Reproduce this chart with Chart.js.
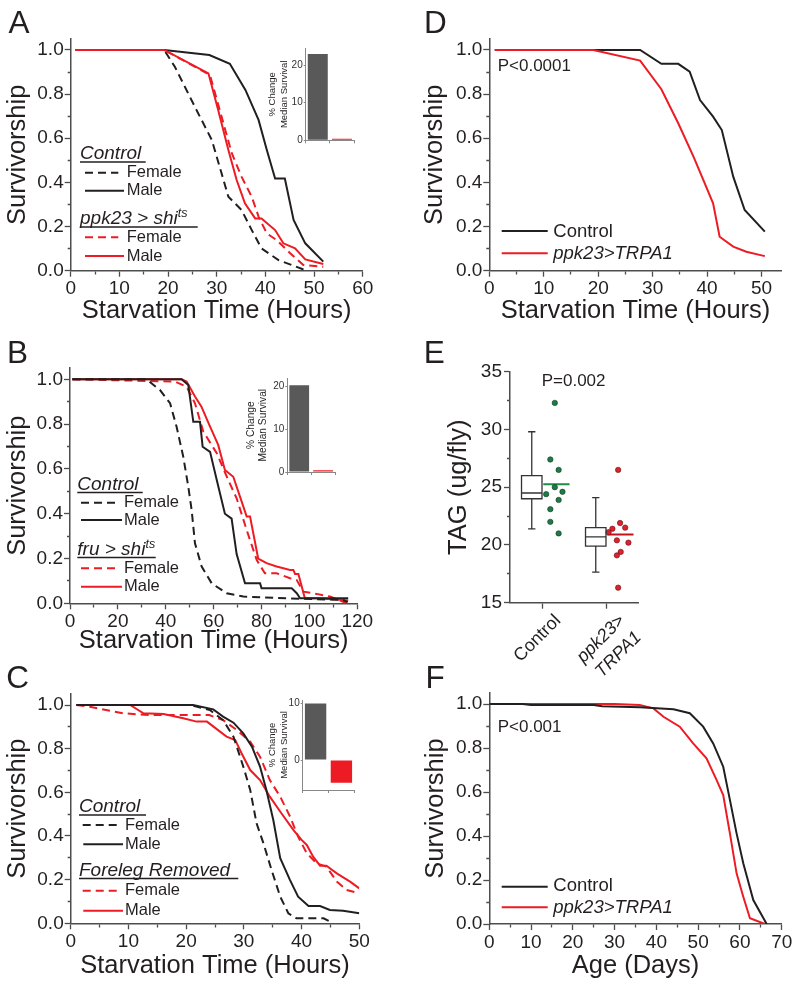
<!DOCTYPE html>
<html>
<head>
<meta charset="utf-8">
<script src="https://cdn.jsdelivr.net/npm/chart.js@4.4.1/dist/chart.umd.min.js"></script>
<style>
html, body { margin: 0; padding: 0; background: #fff; }
#fig { position: relative; width: 800px; height: 988px; overflow: hidden;
  font-family: 'Liberation Sans', Arial, sans-serif; color: #231f20; }
#fig canvas { position: absolute; }
.txt { position: absolute; white-space: nowrap; line-height: 1; }
.sup { position: relative; top: -7px; font-size: 12.5px; font-style: italic; }
#marks { position: absolute; left: 0; top: 0; }
</style>
</head>
<body>
<div id="fig">
  <canvas id="chartA"></canvas>
  <canvas id="chartB"></canvas>
  <canvas id="chartC"></canvas>
  <canvas id="chartD"></canvas>
  <canvas id="chartE"></canvas>
  <canvas id="chartF"></canvas>
  <canvas id="insetA"></canvas>
  <canvas id="insetB"></canvas>
  <canvas id="insetC"></canvas>
  <svg id="marks" width="800" height="988"></svg>
</div>
<script>
'use strict';

// ---- A: ppk23 > shi(ts), starvation (hours / survivorship)
let aCtrlFemaleT = [1, 19.2, 21.4, 25.5, 29, 31, 32.4, 35.1, 37.2, 39.2, 42.7, 48.5];
let aCtrlFemaleS = [1, 1, 0.924, 0.743, 0.592, 0.441, 0.335, 0.275, 0.184, 0.101, 0.048, 0];
let aCtrlMaleT = [1, 19.2, 28.5, 32.7, 35.9, 38.6, 40.3, 42, 44, 45.8, 48.2, 51.9];
let aCtrlMaleS = [1, 1, 0.977, 0.937, 0.819, 0.683, 0.547, 0.418, 0.418, 0.23, 0.124, 0.041];
let aShiFemaleT = [1, 19.2, 28.6, 31, 33.1, 35.1, 37.2, 38.6, 40.3, 42.3, 45.1, 47.8, 51.9];
let aShiFemaleS = [1, 1, 0.887, 0.698, 0.532, 0.426, 0.335, 0.245, 0.169, 0.139, 0.079, 0.026, 0.018];
let aShiMaleT = [1, 19.2, 28.3, 30.3, 32.4, 34.1, 35.8, 37.9, 39.2, 42, 43.7, 46.1, 48.2, 51.9];
let aShiMaleS = [1, 1, 0.894, 0.728, 0.547, 0.411, 0.305, 0.237, 0.237, 0.184, 0.124, 0.101, 0.051, 0.03];

// ---- B: fru > shi(ts)
let bCtrlFemaleT = [1, 32, 37.6, 41.8, 44.5, 47.3, 49.4, 50.8, 52.2, 55, 59.2, 65.4, 72.4, 91.9, 114, 116];
let bCtrlFemaleS = [1, 1, 0.952, 0.893, 0.789, 0.655, 0.521, 0.417, 0.268, 0.164, 0.089, 0.045, 0.03, 0.022, 0.015, 0.005];
let bCtrlMaleT = [1, 46.6, 49.4, 51.5, 54.3, 55.4, 58.5, 61.3, 64.7, 67.5, 69.6, 73.1, 79.4, 80, 92.6, 94.7, 96.1, 116.2];
let bCtrlMaleS = [1, 1, 0.975, 0.81, 0.81, 0.699, 0.676, 0.55, 0.4, 0.378, 0.22, 0.089, 0.089, 0.067, 0.067, 0.045, 0.022, 0.022];
let bFruFemaleT = [1, 43.9, 48.7, 52.2, 55.7, 61.3, 66.1, 69.6, 73.8, 78, 81.4, 86.3, 91.9, 94.7, 97.5, 103, 108.6, 115.6];
let bFruFemaleS = [1, 0.99, 0.967, 0.893, 0.766, 0.67, 0.55, 0.469, 0.327, 0.193, 0.134, 0.134, 0.112, 0.104, 0.052, 0.042, 0.03, 0];
let bFruMaleT = [1, 46.6, 48.7, 52.2, 54.9, 58.5, 61.9, 64.7, 68.2, 71, 73.8, 75.2, 78.6, 82.1, 86.3, 91.9, 93.3, 94, 95.4, 98.1, 103, 114, 116.2];
let bFruMaleS = [1, 1, 0.99, 0.923, 0.878, 0.789, 0.707, 0.595, 0.565, 0.476, 0.387, 0.387, 0.2, 0.179, 0.164, 0.149, 0.149, 0.131, 0.131, 0.022, 0.022, 0.015, 0.012];

// ---- C: foreleg removed
let cCtrlFemaleT = [1, 20.7, 24.1, 26.4, 28.2, 29.9, 31.1, 32.2, 33.4, 34.8, 36.3, 37.7, 39.1, 43.8, 44.9];
let cCtrlFemaleS = [1, 1, 0.977, 0.931, 0.855, 0.718, 0.611, 0.458, 0.366, 0.244, 0.122, 0.046, 0.023, 0.023, 0.008];
let cCtrlMaleT = [1, 21.2, 24.7, 26.4, 28.2, 29.9, 31.4, 32.8, 33.9, 35.1, 36.3, 38, 39.4, 41.2, 43.2, 44.9, 47.2, 50];
let cCtrlMaleS = [1, 1, 0.98, 0.947, 0.919, 0.87, 0.809, 0.718, 0.611, 0.473, 0.298, 0.198, 0.122, 0.079, 0.079, 0.061, 0.058, 0.046];
let cLegFemaleT = [1, 3.3, 9.1, 13.7, 24, 26.4, 28.8, 31.1, 32.8, 34.5, 36.3, 38, 39.4, 40.9, 42.6, 44.3, 46.1, 47.8, 50];
let cLegFemaleS = [1, 0.992, 0.962, 0.954, 0.954, 0.931, 0.885, 0.832, 0.763, 0.656, 0.58, 0.489, 0.397, 0.321, 0.275, 0.26, 0.191, 0.153, 0.137];
let cLegMaleT = [1, 10.3, 12.6, 16.1, 19.5, 21.8, 23.6, 27, 28.5, 29.6, 31.1, 32.8, 34.5, 36.5, 38.6, 40, 40.9, 42, 43.2, 44.3, 46.1, 48.4, 50];
let cLegMaleS = [1, 1, 0.962, 0.959, 0.939, 0.924, 0.924, 0.855, 0.84, 0.779, 0.702, 0.656, 0.58, 0.504, 0.427, 0.382, 0.359, 0.305, 0.264, 0.264, 0.229, 0.191, 0.16];

// ---- D: ppk23 > TRPA1, starvation
let dCtrlT = [1, 27.7, 31.6, 34.7, 36.8, 38.7, 41.1, 42.7, 44.8, 46.9, 50.6];
let dCtrlS = [1, 1, 0.937, 0.937, 0.902, 0.773, 0.698, 0.637, 0.426, 0.275, 0.177];
let dTrpT = [1, 19.1, 27.7, 31.6, 34.7, 37.5, 39.3, 41.1, 42.3, 44.8, 47.2, 50.6];
let dTrpS = [1, 1, 0.952, 0.822, 0.668, 0.517, 0.411, 0.305, 0.154, 0.109, 0.086, 0.066];

// ---- F: lifespan (days)
let fCtrlT = [0, 8, 10, 25, 27, 36.1, 44.1, 48, 51.2, 53.6, 56, 57.6, 59.2, 60.8, 63.2, 66.4];
let fCtrlS = [1, 1, 0.995, 0.995, 0.99, 0.985, 0.976, 0.958, 0.897, 0.821, 0.715, 0.564, 0.412, 0.276, 0.109, 0];
let fTrpT = [0, 30, 36, 39.3, 41.7, 45.6, 48.8, 52, 54.4, 56, 57.6, 59.2, 60.8, 62.4, 66];
let fTrpS = [1, 1, 0.995, 0.98, 0.942, 0.897, 0.821, 0.753, 0.655, 0.586, 0.412, 0.23, 0.124, 0.026, 0];

// ---- insets: % change of median survival (control, experimental)
let insetAVals = [23, 0.4];
let insetBVals = [20.3, 0.4];
let insetCVals = [10, -4];

// ---- E: TAG (ug/fly)
let eCats = ['Control', ['ppk23>', 'TRPA1']];
let boxMin = [21.4, 17.65];
let boxQ1 = [24.0, 19.9];
let boxMed = [24.5, 20.7];
let boxQ3 = [26.0, 21.5];
let boxMax = [29.8, 24.1];
let eCtrlTag = [32.3, 27.4, 26.5, 24.4, 25.0, 24.6, 23.9, 23.1, 22.0, 21.0];
let eCtrlJitter = [0.2, 0.13, 0.26, 0.065, 0.2, 0.32, 0.26, 0.13, 0.13, 0.26];
let eTrpTag = [26.5, 21.9, 21.4, 21.5, 21.1, 20.4, 20.2, 19.4, 19.1, 16.3];
let eTrpJitter = [0.19, 0.22, 0.1, 0.3, 0.04, 0.17, 0.35, 0.23, 0.17, 0.19];
let eMean = [25.25, 20.9];

const RED = '#ed1c24';
const BLK = '#231f20';
const AX = '#4d4d4d';
const GRAY = '#595959';

Chart.defaults.font.family = "'Liberation Sans', Arial, sans-serif";
Chart.defaults.color = BLK;

let fig = document.getElementById('fig');
let marks = document.getElementById('marks');

function place(cv, box) {
    cv.width = box.w;
    cv.height = box.h;
    cv.style.left = box.l + 'px';
    cv.style.top = box.t + 'px';
}

function curve(t, s, color, dash) {
    return {
        data: t.map((x, i) => ({ x: x, y: s[i] })),
        borderColor: color,
        borderWidth: 2,
        borderDash: dash ? [8, 5] : [],
        pointRadius: 0,
        tension: 0,
        fill: false
    };
}

// minor ticks are drawn half length with a dash pattern
function axisGrid(isMinor, side) {
    return {
        drawOnChartArea: false,
        tickLength: 6,
        tickColor: AX,
        tickWidth: 1.3,
        tickBorderDash: c => (c.tick && isMinor(c.tick.value)) ? (side === 'y' ? [0, 3, 3, 20] : [3, 20]) : []
    };
}

function survival(id, box, area, xMax, major, minor, xTitle, yPad, sets) {
    let cv = document.getElementById(id);
    place(cv, box);
    return new Chart(cv, {
        type: 'line',
        data: { datasets: sets },
        options: {
            responsive: false,
            animation: false,
            events: [],
            layout: { padding: { left: 0, bottom: 0, top: area.t - box.t, right: box.l + box.w - area.r } },
            plugins: { legend: { display: false }, tooltip: { enabled: false } },
            scales: {
                x: {
                    type: 'linear', min: 0, max: xMax,
                    afterFit: s => { s.height = box.t + box.h - area.b; },
                    ticks: {
                        stepSize: minor, autoSkip: false, includeBounds: false, maxRotation: 0, padding: 1,
                        font: { size: 19 },
                        callback: v => Math.round(v) % major === 0 ? String(Math.round(v)) : ''
                    },
                    grid: axisGrid(v => Math.round(v) % major !== 0, 'x'),
                    border: { color: AX, width: 1.5 },
                    title: { display: true, text: xTitle, font: { size: 25.5 }, padding: { top: 0, bottom: 2 } }
                },
                y: {
                    min: 0, max: 1.05,
                    afterFit: s => { s.width = area.l - box.l; },
                    ticks: {
                        stepSize: 0.1, autoSkip: false, includeBounds: false, padding: 1,
                        font: { size: 19 },
                        callback: v => Math.round(v * 10) % 2 === 0 ? v.toFixed(1) : ''
                    },
                    grid: axisGrid(v => Math.round(v * 10) % 2 !== 0, 'y'),
                    border: { color: AX, width: 1.5 },
                    title: { display: true, text: 'Survivorship', font: { size: 25.5 }, padding: { top: yPad, bottom: 0 } }
                }
            }
        }
    });
}

function inset(id, box, area, vals, yMin, yMax, yTicks, tPad, tSize, tLine) {
    let cv = document.getElementById(id);
    place(cv, box);
    return new Chart(cv, {
        type: 'bar',
        data: {
            labels: ['Control', 'Experimental'],
            datasets: [{
                data: vals,
                backgroundColor: [GRAY, RED],
                borderWidth: 0,
                barPercentage: 0.9,
                categoryPercentage: 0.92
            }]
        },
        options: {
            responsive: false,
            animation: false,
            events: [],
            layout: { padding: { left: 0, bottom: 0, top: area.t - box.t, right: box.l + box.w - area.r } },
            plugins: { legend: { display: false }, tooltip: { enabled: false } },
            scales: {
                x: {
                    afterFit: s => { s.height = box.t + box.h - area.b; },
                    ticks: { display: false },
                    grid: { drawOnChartArea: false, tickLength: 3, tickColor: '#888' },
                    border: { color: '#888', width: 1 }
                },
                y: {
                    min: yMin, max: yMax,
                    afterFit: s => { s.width = area.l - box.l; },
                    afterBuildTicks: s => { s.ticks = yTicks.map(v => ({ value: v })); },
                    ticks: { font: { size: 10 }, padding: 1, color: '#333' },
                    grid: { drawOnChartArea: false, tickLength: 2, tickColor: '#888' },
                    border: { color: '#888', width: 1 },
                    title: {
                        display: true, text: ['% Change', 'Median Survival'],
                        font: { size: tSize, lineHeight: tLine }, padding: { top: tPad, bottom: 0 }
                    }
                }
            }
        }
    });
}

// box plot for panel E, drawn through the chart scales
const boxShift = -0.16;
const boxHalf = 0.16;
const capHalf = 0.057;
const tagBoxes = {
    id: 'tagBoxes',
    afterDatasetsDraw(chart) {
        let ctx = chart.ctx;
        let x = chart.scales.x;
        let y = chart.scales.y;
        ctx.save();
        ctx.strokeStyle = '#333';
        ctx.lineWidth = 1.3;
        for (let i = 0; i < eCats.length; i++) {
            let c = i + 1 + boxShift;
            let xl = x.getPixelForValue(c - boxHalf);
            let xr = x.getPixelForValue(c + boxHalf);
            let xc = x.getPixelForValue(c);
            let cw = x.getPixelForValue(c + capHalf) - xc;
            let yq1 = y.getPixelForValue(boxQ1[i]);
            let yq3 = y.getPixelForValue(boxQ3[i]);
            let ymed = y.getPixelForValue(boxMed[i]);
            let ymin = y.getPixelForValue(boxMin[i]);
            let ymax = y.getPixelForValue(boxMax[i]);
            ctx.beginPath();
            ctx.rect(xl, yq3, xr - xl, yq1 - yq3);
            ctx.moveTo(xl, ymed); ctx.lineTo(xr, ymed);
            ctx.moveTo(xc, yq3); ctx.lineTo(xc, ymax);
            ctx.moveTo(xc - cw, ymax); ctx.lineTo(xc + cw, ymax);
            ctx.moveTo(xc, yq1); ctx.lineTo(xc, ymin);
            ctx.moveTo(xc - cw, ymin); ctx.lineTo(xc + cw, ymin);
            ctx.stroke();
        }
        ctx.restore();
    }
};

function tagChart() {
    let box = { l: 400, t: 330, w: 400, h: 360 };
    let area = { l: 510, t: 371.7, r: 638, b: 602.7 };
    let cv = document.getElementById('chartE');
    place(cv, box);
    let meanLine = (i, color) => ({
        type: 'line',
        data: [{ x: i + 1.02, y: eMean[i] }, { x: i + 1.43, y: eMean[i] }],
        borderColor: color, borderWidth: 2, pointRadius: 0, showLine: true
    });
    return new Chart(cv, {
        type: 'scatter',
        data: {
            datasets: [
                {
                    data: eCtrlTag.map((v, i) => ({ x: 1 + eCtrlJitter[i], y: v })),
                    pointRadius: 2.7, backgroundColor: '#1f7a45', borderColor: '#0d3d22', borderWidth: 0.6
                },
                {
                    data: eTrpTag.map((v, i) => ({ x: 2 + eTrpJitter[i], y: v })),
                    pointRadius: 2.7, backgroundColor: '#d9232e', borderColor: '#6b0f14', borderWidth: 0.6
                },
                meanLine(0, '#1e8c45'),
                meanLine(1, '#c0141d')
            ]
        },
        options: {
            responsive: false,
            animation: false,
            events: [],
            layout: { padding: { left: 0, bottom: 0, top: area.t - box.t, right: box.l + box.w - area.r } },
            plugins: { legend: { display: false }, tooltip: { enabled: false } },
            scales: {
                x: {
                    type: 'linear', min: 0.5, max: 2.5,
                    afterFit: s => { s.height = box.t + box.h - area.b; },
                    afterBuildTicks: s => { s.ticks = eCats.map((c, i) => ({ value: i + 1 })); },
                    ticks: {
                        autoSkip: false, minRotation: 45, maxRotation: 45, padding: 1, labelOffset: 16,
                        font: c => ({ size: 18, lineHeight: 1.3, style: c.index === 1 ? 'italic' : 'normal' }),
                        callback: (v, i) => eCats[i]
                    },
                    grid: { drawOnChartArea: false, tickLength: 6, tickColor: AX, tickWidth: 1.3 },
                    border: { color: AX, width: 1.5 }
                },
                y: {
                    min: 15, max: 35,
                    afterFit: s => { s.width = area.l - box.l; },
                    ticks: {
                        stepSize: 2.5, autoSkip: false, includeBounds: false, padding: 2,
                        font: { size: 19 },
                        callback: v => v % 5 === 0 ? String(v) : ''
                    },
                    grid: axisGrid(v => v % 5 !== 0, 'y'),
                    border: { color: AX, width: 1.5 },
                    title: { display: true, text: 'TAG (ug/fly)', font: { size: 25.5 }, padding: { top: 44, bottom: 0 } }
                }
            }
        },
        plugins: [tagBoxes]
    });
}

// ---- draw panels
survival('chartA', { l: 0, t: 0, w: 400, h: 328 }, { l: 70.7, t: 38.9, r: 362.7, b: 270.7 },
    60, 10, 5, 'Starvation Time (Hours)', 2.4, [
        curve(aShiMaleT, aShiMaleS, RED, false),
        curve(aShiFemaleT, aShiFemaleS, RED, true),
        curve(aCtrlMaleT, aCtrlMaleS, BLK, false),
        curve(aCtrlFemaleT, aCtrlFemaleS, BLK, true)
    ]);

survival('chartB', { l: 0, t: 330, w: 400, h: 328 }, { l: 70, t: 368.1, r: 357.3, b: 603.3 },
    120, 20, 10, 'Starvation Time (Hours)', 2.4, [
        curve(bCtrlMaleT, bCtrlMaleS, BLK, false),
        curve(bCtrlFemaleT, bCtrlFemaleS, BLK, true),
        curve(bFruMaleT, bFruMaleS, RED, false),
        curve(bFruFemaleT, bFruFemaleS, RED, true)
    ]);

survival('chartC', { l: 0, t: 662, w: 400, h: 321 }, { l: 70.7, t: 694.1, r: 359.3, b: 923.3 },
    50, 10, 5, 'Starvation Time (Hours)', 2.4, [
        curve(cCtrlMaleT, cCtrlMaleS, BLK, false),
        curve(cCtrlFemaleT, cCtrlFemaleS, BLK, true),
        curve(cLegMaleT, cLegMaleS, RED, false),
        curve(cLegFemaleT, cLegFemaleS, RED, true)
    ]);

survival('chartD', { l: 400, t: 0, w: 400, h: 328 }, { l: 489.3, t: 38.9, r: 781.7, b: 270.7 },
    53.7, 10, 5, 'Starvation Time (Hours)', 19.7, [
        curve(dTrpT, dTrpS, RED, false),
        curve(dCtrlT, dCtrlS, BLK, false)
    ]);

tagChart();

survival('chartF', { l: 400, t: 662, w: 400, h: 321 }, { l: 489.3, t: 693, r: 781.7, b: 924 },
    70, 10, 5, 'Age (Days)', 20.5, [
        curve(fCtrlT, fCtrlS, BLK, false),
        curve(fTrpT, fTrpS, RED, false)
    ]);

inset('insetA', { l: 260, t: 40, w: 100, h: 110 }, { l: 305.7, t: 48.3, r: 354, b: 140.3 },
    insetAVals, 0, 24.5, [0, 10, 20], 6.9, 9.5, 1.22);
inset('insetB', { l: 240, t: 370, w: 100, h: 110 }, { l: 287.3, t: 378.3, r: 335, b: 472 },
    insetBVals, 0, 21.9, [0, 10, 20], 4.4, 10.2, 1.235);
inset('insetC', { l: 258, t: 690, w: 100, h: 110 }, { l: 302.7, t: 700, r: 354.3, b: 790 },
    insetCVals, -5.3, 10.6, [0, 10], 8.9, 9.5, 1.22);

// ---- text and legend keys
function text(x, base, str, size, italic) {
    let d = document.createElement('div');
    d.className = 'txt';
    d.style.left = x + 'px';
    d.style.top = (base - 0.8465 * size) + 'px';
    d.style.fontSize = size + 'px';
    if (italic) d.style.fontStyle = 'italic';
    d.innerHTML = str;
    fig.appendChild(d);
}

function seg(x1, x2, y, color, dash, w) {
    let l = document.createElementNS('http://www.w3.org/2000/svg', 'line');
    l.setAttribute('x1', x1);
    l.setAttribute('x2', x2);
    l.setAttribute('y1', y);
    l.setAttribute('y2', y);
    l.setAttribute('stroke', color);
    l.setAttribute('stroke-width', w || 2);
    if (dash) l.setAttribute('stroke-dasharray', '8 5');
    marks.appendChild(l);
}

function header(x, base, str, endX) {
    text(x, base, str, 19, true);
    seg(x, endX, base + 2.6, BLK, false, 1.5);
}

function item(x1, x2, y, color, dash, tx, label) {
    seg(x1, x2, y, color, dash, 2);
    text(tx, y + 4.7, label, 16.5, false);
}

// panel letters
text(8.5, 34, 'A', 31.5);
text(7, 364, 'B', 31.5);
text(6.3, 689, 'C', 31.5);
text(424, 34, 'D', 31.5);
text(423.8, 364, 'E', 31.5);
text(425.5, 689, 'F', 31.5);

// A legend
header(80, 159.3, 'Control', 145.7);
item(85, 118.3, 172.7, BLK, true, 126.7, 'Female');
item(85, 124, 190.7, BLK, false, 126.7, 'Male');
header(80, 224.5, 'ppk23 &gt; shi<span class="sup">ts</span>', 197.7);
item(85, 118.3, 237.3, RED, true, 126.7, 'Female');
item(85, 124, 256, RED, false, 126.7, 'Male');

// B legend
header(77.3, 490, 'Control', 142.7);
item(81, 115, 502.7, BLK, true, 124, 'Female');
item(81, 122, 520, BLK, false, 124, 'Male');
header(77.3, 555, 'fru &gt; shi<span class="sup">ts</span>', 155.7);
item(81, 115, 568.3, RED, true, 124, 'Female');
item(81, 122, 586.7, RED, false, 124, 'Male');

// C legend
header(79, 812.3, 'Control', 146);
item(82.7, 116.7, 825, BLK, true, 125, 'Female');
item(83.3, 123, 844.3, BLK, false, 125, 'Male');
header(79, 876, 'Foreleg Removed', 238.3);
item(82.7, 116.7, 890.7, RED, true, 125, 'Female');
item(83.3, 123, 910.7, RED, false, 125, 'Male');

// D legend
seg(501.7, 547.7, 231, BLK, false, 2);
text(553.3, 237.3, 'Control', 18.5);
seg(501.7, 547.7, 253.3, RED, false, 2);
text(553.3, 259.3, 'ppk23&gt;TRPA1', 18.5, true);
text(497.7, 71.7, 'P&lt;0.0001', 17);

// E annotation
text(541.7, 386, 'P=0.002', 17);

// F legend
seg(501.7, 547.7, 886.7, BLK, false, 2);
text(553.3, 891.7, 'Control', 18.5);
seg(501.7, 547.7, 907.3, RED, false, 2);
text(553.3, 913.3, 'ppk23&gt;TRPA1', 18.5, true);
text(497.7, 732.3, 'P&lt;0.001', 17);
</script>
</body>
</html>
